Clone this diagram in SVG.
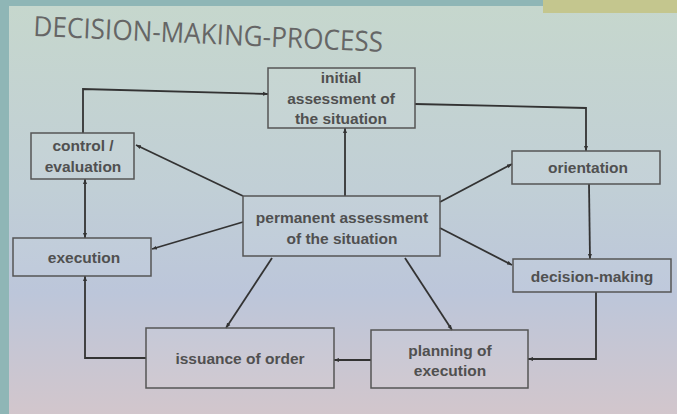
<svg xmlns="http://www.w3.org/2000/svg" width="677" height="414" viewBox="0 0 677 414">
<defs>
<linearGradient id="bg" x1="0" y1="0" x2="0" y2="1">
<stop offset="0" stop-color="#c6d7cd"/>
<stop offset="0.45" stop-color="#c1cfd6"/>
<stop offset="0.7" stop-color="#bcc6da"/>
<stop offset="1" stop-color="#d2c6cc"/>
</linearGradient>
<marker id="ah" viewBox="0 0 10 10" refX="10" refY="5" markerWidth="5" markerHeight="5" orient="auto-start-reverse" markerUnits="userSpaceOnUse">
<path d="M0,1 L10,5 L0,9 z" fill="#333"/>
</marker>
<style>
.box{fill:#ffffff;fill-opacity:0.06;stroke:#555;stroke-width:1.5}
.t{font-family:"Liberation Sans",Arial,sans-serif;font-size:15.5px;font-weight:bold;fill:#505050;text-anchor:middle}
.c{fill:none;stroke:#333;stroke-width:1.8;marker-end:url(#ah)}
</style>
</defs>
<rect x="0" y="0" width="677" height="414" fill="#8fb6b6"/>
<rect x="9" y="6" width="668" height="408" fill="url(#bg)"/>
<rect x="543" y="0" width="134" height="13" fill="#c4c68e"/>
<text x="33" y="36" transform="rotate(2.6 33 36)" font-family="'Open Sans',sans-serif" font-size="28" fill="#666" textLength="350" lengthAdjust="spacingAndGlyphs">DECISION-MAKING-PROCESS</text>

<g id="connectors">
<path class="c" d="M83,133 V89 L268,94"/>
<path class="c" d="M415,104 L586,108 V151"/>
<path class="c" d="M345,196 V128"/>
<path class="c" d="M243,196 L136,145"/>
<path class="c" d="M243,222 L152,249"/>
<path class="c" d="M85,208 V179"/>
<path class="c" d="M85,208 V238"/>
<path class="c" d="M440,202 L512,164"/>
<path class="c" d="M440,228 L512,265"/>
<path class="c" d="M589,184 L590,259"/>
<path class="c" d="M596,292 V359 H528"/>
<path class="c" d="M371,360 H334"/>
<path class="c" d="M146,358 H85 V276"/>
<path class="c" d="M272,258 L226,328"/>
<path class="c" d="M405,258 L452,330"/>
</g>

<g id="initial">
<rect class="box" x="268" y="68" width="147" height="60"/>
<text class="t" x="341" y="83">initial</text>
<text class="t" x="341" y="104">assessment of</text>
<text class="t" x="341" y="124">the situation</text>
</g>
<g id="control">
<rect class="box" x="31" y="133" width="103" height="46"/>
<text class="t" x="83" y="151">control /</text>
<text class="t" x="83" y="172">evaluation</text>
</g>
<g id="orientation">
<rect class="box" x="512" y="151" width="148" height="33"/>
<text class="t" x="588" y="173">orientation</text>
</g>
<g id="permanent">
<rect class="box" x="243" y="196" width="197" height="60"/>
<text class="t" x="342" y="223">permanent assessment</text>
<text class="t" x="342" y="244">of the situation</text>
</g>
<g id="execution">
<rect class="box" x="13" y="238" width="138" height="38"/>
<text class="t" x="84" y="263">execution</text>
</g>
<g id="decision">
<rect class="box" x="513" y="259" width="158" height="33"/>
<text class="t" x="592" y="282">decision-making</text>
</g>
<g id="issuance">
<rect class="box" x="146" y="328" width="188" height="60"/>
<text class="t" x="240" y="364">issuance of order</text>
</g>
<g id="planning">
<rect class="box" x="371" y="330" width="157" height="58"/>
<text class="t" x="450" y="356">planning of</text>
<text class="t" x="450" y="376">execution</text>
</g>
</svg>
